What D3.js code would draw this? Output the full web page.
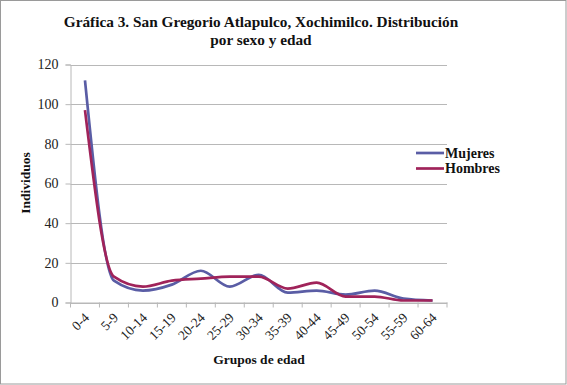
<!DOCTYPE html>
<html><head><meta charset="utf-8">
<script src="https://cdn.jsdelivr.net/npm/d3@7"></script>
<style>body{margin:0;background:#fff}svg{display:block}</style>
</head><body><svg id="c" width="567" height="385"></svg>
<script>
const categories = ["0-4","5-9","10-14","15-19","20-24","25-29","30-34","35-39","40-44","45-49","50-54","55-59","60-64"];
const mujeres = [112, 11, 6, 9, 16, 8, 14, 5, 6, 4, 6, 2, 1];
const hombres = [97, 13, 8, 11, 12, 13, 13, 7, 10, 3, 3, 1, 1];
const yTicks = [0, 20, 40, 60, 80, 100, 120];
const seriesNames = ["Mujeres", "Hombres"];
const colors = ["#5A5DA5", "#A0235A"];

const svg = d3.select("#c");
const W = 567, H = 385;
const m = {l: 70.5, r: 447, t: 64.5, b: 302.5};
const tf = "'Liberation Serif', serif";

svg.append("rect").attr("x",0.5).attr("y",0.5).attr("width",W-1.5).attr("height",H-1.5)
  .attr("fill","#fff").attr("stroke","#9a9a9a").attr("stroke-width",1);

const x = d3.scaleBand().domain(categories).range([m.l, m.r]);
const y = d3.scaleLinear().domain([0,120]).range([m.b, m.t]);

// gridlines
svg.append("g").selectAll("line").data(yTicks).join("line")
  .attr("x1", m.l).attr("x2", m.r)
  .attr("y1", d => Math.round(y(d))+0.5).attr("y2", d => Math.round(y(d))+0.5)
  .attr("stroke", "#b8b8b8").attr("stroke-width", 1);

// y axis
const ya = svg.append("g").attr("transform", `translate(${m.l},0)`)
  .call(d3.axisLeft(y).tickValues(yTicks).tickSize(5).tickPadding(7));
ya.select(".domain").attr("stroke","#b8b8b8");
ya.selectAll(".tick line").attr("stroke","#b8b8b8");
ya.selectAll(".tick text").attr("font-family",tf).attr("font-size","14px").attr("fill","#222");

// x axis
const xa = svg.append("g").attr("transform", `translate(0,${m.b})`)
  .call(d3.axisBottom(x).tickSize(0).tickPadding(0));
xa.select(".domain").attr("stroke","#b8b8b8");
xa.selectAll(".tick line").remove();
const bounds = d3.range(categories.length+1).map(i => m.l + i*x.step());
xa.selectAll("line.bt").data(bounds).join("line").attr("class","bt")
  .attr("x1", d=>d).attr("x2", d=>d).attr("y1",0).attr("y2",5).attr("stroke","#b8b8b8");
xa.selectAll(".tick text")
  .attr("font-family",tf).attr("font-size","13.5px").attr("fill","#222")
  .attr("text-anchor","end").attr("dy","0")
  .attr("transform","translate(5,16) rotate(-45)");

// lines
const line = d3.line().x((d,i)=> x(categories[i]) + x.bandwidth()/2).y(d=>y(d)).curve(d3.curveMonotoneX);
[mujeres, hombres].forEach((s, k) => {
  svg.append("path").datum(s).attr("d", line).attr("fill","none")
    .attr("stroke", colors[k]).attr("stroke-width", 2.7).attr("stroke-linejoin","round");
});

// title
svg.append("text").attr("x",261).attr("y",27).attr("text-anchor","middle")
  .attr("font-family",tf).attr("font-weight","bold").attr("font-size","15.3px").attr("fill","#111")
  .text("Gráfica 3. San Gregorio Atlapulco, Xochimilco. Distribución");
svg.append("text").attr("x",261).attr("y",45).attr("text-anchor","middle")
  .attr("font-family",tf).attr("font-weight","bold").attr("font-size","15.3px").attr("fill","#111")
  .text("por sexo y edad");

// axis titles
svg.append("text").attr("transform","translate(30,183) rotate(-90)").attr("text-anchor","middle")
  .attr("font-family",tf).attr("font-weight","bold").attr("font-size","13.5px").attr("fill","#111")
  .text("Individuos");
svg.append("text").attr("x",259).attr("y",364).attr("text-anchor","middle")
  .attr("font-family",tf).attr("font-weight","bold").attr("font-size","13.5px").attr("fill","#111")
  .text("Grupos de edad");

// legend
seriesNames.forEach((n,k) => {
  const yy = 153 + k*15.5;
  svg.append("line").attr("x1",416).attr("x2",444).attr("y1",yy).attr("y2",yy)
    .attr("stroke",colors[k]).attr("stroke-width",2.7);
  svg.append("text").attr("x",445).attr("y",yy+4.5)
    .attr("font-family",tf).attr("font-weight","bold").attr("font-size","14px").attr("fill","#111")
    .text(n);
});
</script></body></html>
